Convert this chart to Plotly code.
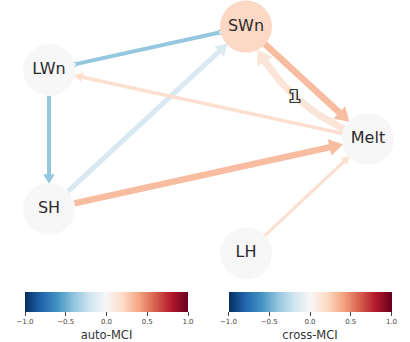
import numpy as np
import plotly.graph_objects as go
from plotly.colors import sample_colorscale, diverging

# ---- data -------------------------------------------------------------
# variables and their auto-MCI (node colour)
node_names = ["LWn", "SWn", "Melt", "SH", "LH"]
node_auto_mci = [0.0, 0.21, 0.0, 0.0, 0.0]

# links: source, target, lag, cross-MCI value (edge colour)
link_sources = ["LWn", "LWn", "SH", "SWn", "SH", "Melt", "LH", "Melt"]
link_targets = ["SWn", "SH", "SWn", "Melt", "Melt", "LWn", "Melt", "SWn"]
link_lags = [0, 0, 0, 0, 0, 0, 0, 1]
link_mci = [-0.39, -0.39, -0.16, 0.31, 0.31, 0.17, 0.17, 0.13]
link_oriented = [False, True, True, True, True, True, True, True]

colorbar_ticks = [-1.0, -0.5, 0.0, 0.5, 1.0]

# ---- layout / style ---------------------------------------------------
W, H = 410, 342
node_xy = {"LWn": (49, 71), "SWn": (246, 27), "Melt": (368, 141),
           "SH": (49, 212), "LH": (246, 257)}
node_radius = 26
link_widths = [4, 4, 5, 6.5, 6.5, 3.5, 3, 7]
curve_rad = 0.22

rdbu_r = diverging.RdBu[::-1]
cscale = [[i / (len(rdbu_r) - 1), c] for i, c in enumerate(rdbu_r)]


def cmap(v):
    return sample_colorscale(cscale, [(v + 1) / 2])[0]


fig = go.Figure()


def add_line(xs, ys, color, width):
    fig.add_trace(go.Scatter(x=xs, y=ys, mode="lines", hoverinfo="skip",
                             line=dict(color=color, width=width),
                             showlegend=False))


def add_head(tip, unit, color, width):
    hl = 1.7 * width + 2
    hw = 1.1 * width + 1
    perp = np.array([-unit[1], unit[0]])
    base = tip - unit * hl
    p1 = base + perp * hw
    p2 = base - perp * hw
    fig.add_trace(go.Scatter(x=[tip[0], p1[0], p2[0], tip[0]],
                             y=[tip[1], p1[1], p2[1], tip[1]],
                             mode="lines", fill="toself", fillcolor=color,
                             line=dict(color=color, width=0.5),
                             hoverinfo="skip", showlegend=False))
    return hl


annotations = []
order = sorted(range(len(link_sources)), key=lambda i: -link_lags[i])
for i in order:
    a = np.array(node_xy[link_sources[i]], float)
    b = np.array(node_xy[link_targets[i]], float)
    col = cmap(link_mci[i])
    w = link_widths[i]
    if link_lags[i] == 0:
        d = b - a
        u = d / np.linalg.norm(d)
        start = a + u * node_radius
        tip = b - u * node_radius
        if link_oriented[i]:
            hl = add_head(tip, u, col, w)
            end = tip - u * (hl - 0.5)
        else:
            end = tip
        add_line([start[0], end[0]], [start[1], end[1]], col, w)
        if not link_oriented[i]:
            fig.add_trace(go.Scatter(
                x=[start[0], end[0]], y=[start[1], end[1]], mode="markers",
                marker=dict(symbol="square", size=4, color="#e4f0f7",
                            line=dict(color=col, width=1)),
                hoverinfo="skip", showlegend=False))
    else:
        # lagged link drawn as a curved arc between the two nodes
        d = b - a
        L = np.linalg.norm(d)
        perp = np.array([d[1], -d[0]]) / L
        ctrl = (a + b) / 2 + perp * curve_rad * L
        t = np.linspace(0, 1, 400)[:, None]
        pts = (1 - t) ** 2 * a + 2 * (1 - t) * t * ctrl + t ** 2 * b
        keep = (np.linalg.norm(pts - a, axis=1) > node_radius) & \
               (np.linalg.norm(pts - b, axis=1) > node_radius)
        pts = pts[keep]
        tip = pts[-1]
        hl = 1.7 * w + 2
        shaft = pts[np.linalg.norm(pts - tip, axis=1) > hl - 0.5]
        u = tip - shaft[-1]
        u = u / np.linalg.norm(u)
        add_line(shaft[:, 0], shaft[:, 1], col, w)
        add_head(tip, u, col, w)
        mid = 0.25 * a + 0.5 * ctrl + 0.25 * b
        annotations.append(dict(
            x=mid[0], y=mid[1], text=str(link_lags[i]), showarrow=False,
            font=dict(family="DejaVu Sans", size=16, color="#ededed",
                      weight="bold",
                      shadow="-1.2px -1.2px 0 #333, 1.2px -1.2px 0 #333, "
                             "-1.2px 1.2px 0 #333, 1.2px 1.2px 0 #333, "
                             "0 1.2px 0 #333, 0 -1.2px 0 #333, "
                             "1.2px 0 0 #333, -1.2px 0 0 #333")))

# nodes
fig.add_trace(go.Scatter(
    x=[node_xy[n][0] for n in node_names],
    y=[node_xy[n][1] for n in node_names],
    mode="markers+text", text=node_names, textposition="middle center",
    textfont=dict(family="DejaVu Sans", size=16, color="#2b2b2b"),
    marker=dict(size=2 * node_radius,
                color=[cmap(v) for v in node_auto_mci],
                line=dict(width=0)),
    hoverinfo="skip", showlegend=False))


# colour bars
def colorbar_trace(title, xc):
    return go.Scatter(
        x=[None], y=[None], mode="markers", showlegend=False,
        marker=dict(color=[0], cmin=-1, cmax=1, colorscale=cscale,
                    showscale=True,
                    colorbar=dict(
                        orientation="h", x=xc / W, xanchor="center",
                        y=1 - 296 / H, yanchor="top",
                        lenmode="pixels", len=163,
                        thicknessmode="pixels", thickness=20,
                        xpad=0, ypad=0, outlinewidth=0,
                        tickvals=colorbar_ticks, tickformat=".1f",
                        ticks="outside", ticklen=4, tickwidth=1,
                        tickcolor="#444",
                        tickfont=dict(family="DejaVu Sans", size=7,
                                      color="#444"),
                        title=dict(text=title, side="bottom",
                                   font=dict(family="DejaVu Sans", size=11.5,
                                             color="#333")))))


fig.add_trace(colorbar_trace("auto-MCI", 106.5))
fig.add_trace(colorbar_trace("cross-MCI", 310))

fig.update_layout(
    width=W, height=H, margin=dict(l=0, r=0, t=0, b=0),
    paper_bgcolor="white", plot_bgcolor="white",
    xaxis=dict(range=[0, W], visible=False, fixedrange=True),
    yaxis=dict(range=[H, 0], visible=False, fixedrange=True),
    annotations=annotations,
)

fig.write_html("out.html", config={"displayModeBar": False})
